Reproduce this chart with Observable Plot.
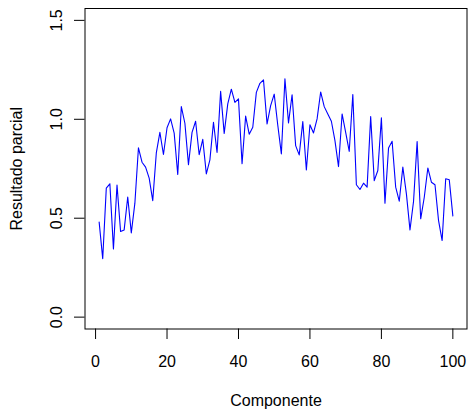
<!DOCTYPE html>
<html>
<head>
<meta charset="utf-8">
<script src="https://cdn.jsdelivr.net/npm/d3@7"></script>
<script src="https://cdn.jsdelivr.net/npm/@observablehq/plot@0.6"></script>
<style>
  html, body { margin: 0; padding: 0; background: #fff; }
</style>
</head>
<body>
<div id="chart"></div>
<script>
const resultado = [
  0.480, 0.295, 0.652, 0.674, 0.345, 0.668, 0.433, 0.441, 0.607, 0.426,
  0.576, 0.856, 0.783, 0.758, 0.703, 0.589, 0.830, 0.934, 0.822, 0.957,
  1.002, 0.930, 0.721, 1.064, 0.980, 0.771, 0.934, 0.990, 0.821, 0.899,
  0.724, 0.795, 0.985, 0.832, 1.141, 0.929, 1.078, 1.152, 1.085, 1.103,
  0.775, 1.016, 0.925, 0.960, 1.136, 1.182, 1.199, 0.977, 1.069, 1.127,
  0.970, 0.825, 1.205, 0.982, 1.124, 0.867, 0.820, 0.988, 0.744, 0.972,
  0.931, 1.002, 1.138, 1.064, 1.027, 0.990, 0.892, 0.761, 1.027, 0.934,
  0.838, 1.125, 0.669, 0.645, 0.677, 0.657, 1.014, 0.690, 0.741, 1.007,
  0.576, 0.855, 0.889, 0.657, 0.586, 0.758, 0.623, 0.441, 0.586, 0.887,
  0.497, 0.606, 0.754, 0.682, 0.669, 0.488, 0.387, 0.699, 0.694, 0.512
];
const componente = resultado.map((_, i) => i + 1);
const xTicks = [0, 20, 40, 60, 80, 100];
const yTicks = [0, 0.5, 1.0, 1.5];
const yTickLabels = ["0.0", "0.5", "1.0", "1.5"];
const xTitle = "Componente";
const yTitle = "Resultado parcial";

const data = componente.map((c, i) => ({componente: c, resultado: resultado[i]}));
const font = "'Liberation Sans', Arial, Helvetica, sans-serif";

const chart = Plot.plot({
  width: 468,
  height: 409,
  marginLeft: 84.5,
  marginRight: 1.5,
  marginTop: 8,
  marginBottom: 80.5,
  style: {fontFamily: font, fontSize: "16px", background: "#fff", color: "#000"},
  x: {domain: [-2.96, 103.96]},
  y: {domain: [-0.06, 1.56]},
  marks: [
    Plot.frame({stroke: "#000", strokeWidth: 1}),
    Plot.line(data, {x: "componente", y: "resultado", stroke: "#0000ff", strokeWidth: 1.1}),
    Plot.axisX({
      ticks: xTicks,
      tickSize: 10.5,
      tickPadding: 16,
      tickFormat: d => String(d),
      label: null,
      fontSize: 16,
      stroke: "#000"
    }),
    Plot.axisY({
      ticks: yTicks,
      tickSize: 10.5,
      tickPadding: 13,
      tickRotate: -90,
      tickFormat: d => yTickLabels[yTicks.indexOf(d)],
      label: null,
      fontSize: 16,
      stroke: "#000"
    }),
    Plot.text([xTitle], {
      frameAnchor: "bottom",
      dy: 65.5,
      lineAnchor: "top",
      textAnchor: "middle",
      fontSize: 16,
      fill: "#000"
    }),
    Plot.text([yTitle], {
      frameAnchor: "left",
      dx: -63,
      rotate: -90,
      lineAnchor: "bottom",
      textAnchor: "middle",
      fontSize: 16,
      fill: "#000"
    })
  ]
});
document.getElementById("chart").appendChild(chart);
</script>
</body>
</html>
